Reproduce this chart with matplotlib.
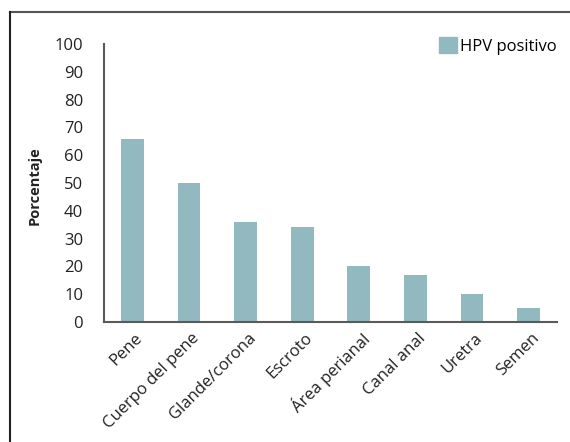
import matplotlib.pyplot as plt
from matplotlib.lines import Line2D
from matplotlib.patches import Patch
from matplotlib.transforms import ScaledTranslation

plt.rcParams['font.family'] = ['Open Sans', 'DejaVu Sans']

# --- datos ---
sitios = ["Pene", "Cuerpo del pene", "Glande/corona", "Escroto",
          "Área perianal", "Canal anal", "Uretra", "Semen"]
hpv_positivo = [66, 50, 36, 34, 20, 17, 10, 5]
yticks = [0, 10, 20, 30, 40, 50, 60, 70, 80, 90, 100]

W, H = 570, 442
fig = plt.figure(figsize=(W / 100, H / 100), dpi=100)
# área del gráfico en píxeles: x 104..557, y 44..322
ax = fig.add_axes([104 / W, 1 - 322 / H, (557 - 104) / W, (322 - 44) / H])

x = range(len(sitios))
ax.bar(x, hpv_positivo, width=0.4, color="#93b9c0", zorder=2)

ax.set_xlim(-0.5, len(sitios) - 0.5)
ax.set_ylim(0, 100)
ax.set_yticks(yticks)
ax.tick_params(axis="y", length=0, pad=15, labelsize=12, colors="#222222")
ax.tick_params(axis="x", length=0, pad=0, labelsize=12, colors="#222222")
ax.set_xticks(list(x))
ax.set_xticklabels(sitios, rotation=45, ha="right", va="center",
                   rotation_mode="anchor")
# desplazar etiquetas: 8 px a la derecha, 14 px hacia abajo
offset = ScaledTranslation(8 / 100, -14 / 100, fig.dpi_scale_trans)
for lbl in ax.get_xticklabels():
    lbl.set_transform(lbl.get_transform() + offset)

for s in ["top", "right"]:
    ax.spines[s].set_visible(False)
for s in ["left", "bottom"]:
    ax.spines[s].set_color("#5a5a5a")
    ax.spines[s].set_linewidth(1.5)

fig.text(35 / W, 1 - 186 / H, "Porcentaje", rotation=90, ha="center",
         va="center", fontsize=10.5, fontweight="bold", color="#222222")

# leyenda
fig.legend(handles=[Patch(color="#93b9c0", label="HPV positivo")],
           loc="center left", bbox_to_anchor=(439 / W, 1 - 46 / H),
           frameon=False, fontsize=12, handlelength=1.08, handleheight=1.08,
           handletextpad=0.2, borderaxespad=0, borderpad=0)

# marco exterior: solo arriba e izquierda
fig.add_artist(Line2D([10 / W, 1], [1 - 12 / H, 1 - 12 / H],
                      transform=fig.transFigure, color="#555555", lw=1.5))
fig.add_artist(Line2D([10 / W, 10 / W], [0, 1 - 12 / H],
                      transform=fig.transFigure, color="#222222", lw=1.5))

fig.savefig("out.png", dpi=100)
